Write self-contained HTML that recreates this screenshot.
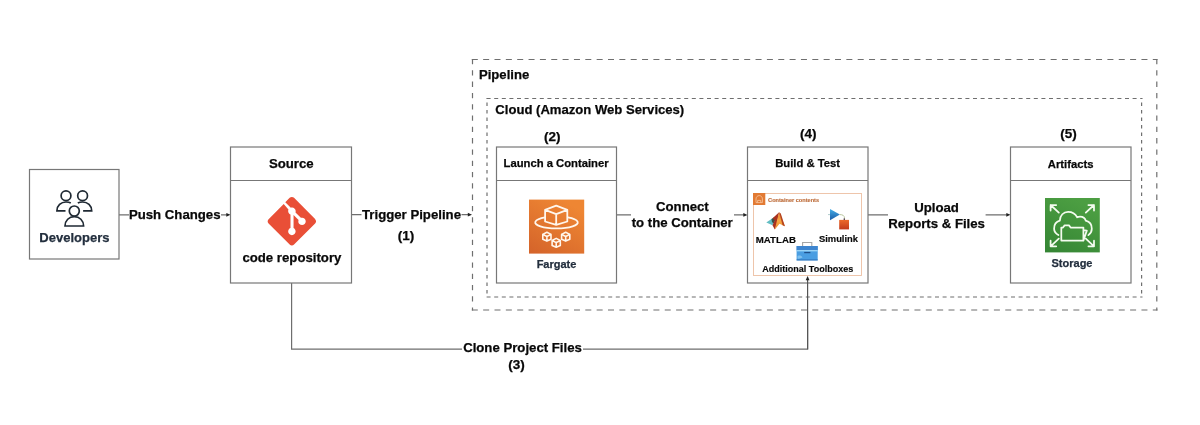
<!DOCTYPE html>
<html><head><meta charset="utf-8">
<style>
html,body{margin:0;padding:0;background:#fff;}
body{width:1200px;height:425px;overflow:hidden;position:relative;}
svg{position:absolute;left:0;top:0;will-change:transform;}
text{font-family:"Liberation Sans",sans-serif;font-weight:bold;}
</style></head>
<body>
<svg width="1200" height="425" viewBox="0 0 1200 425">
<defs>
  <linearGradient id="gOr" x1="0" y1="1" x2="0.6" y2="0">
    <stop offset="0" stop-color="#D4632A"/><stop offset="1" stop-color="#EE8633"/>
  </linearGradient>
  <linearGradient id="gGr" x1="0" y1="1" x2="0.5" y2="0">
    <stop offset="0" stop-color="#348534"/><stop offset="1" stop-color="#4C9E42"/>
  </linearGradient>
</defs>

<!-- dashed containers -->
<g fill="none" stroke="#6f6f6f" stroke-width="1.2">
  <path stroke-dasharray="6 5.35" d="M471.8,59.5 H1157.5 M471.8,310 H1157.5"/>
  <path stroke-dasharray="5.3 6" d="M472.5,59 V310.5 M1156.8,59 V310.5"/>
  <path stroke-dasharray="4 3.6" d="M486.6,98.5 H1142.5 M486.6,297 H1142.5"/>
  <path stroke-dasharray="3.5 4" stroke-dashoffset="-4.5" d="M487,98 V297.5 M1141.6,98 V297.5"/>
</g>

<text x="479" y="79.2" font-size="13.1" fill="#080808" stroke="#080808" stroke-width="0.25">Pipeline</text>
<text x="495.3" y="113.9" font-size="13.1" fill="#080808" stroke="#080808" stroke-width="0.25">Cloud (Amazon Web Services)</text>

<!-- connectors -->
<g stroke="#6e6e6e" stroke-width="1.2" fill="none">
  <line x1="119" y1="214.8" x2="227" y2="214.8"/>
  <line x1="351.5" y1="214.7" x2="468" y2="214.7"/>
  <line x1="616.5" y1="214.9" x2="744" y2="214.9"/>
  <line x1="868" y1="214.8" x2="1007" y2="214.8"/>
  <polyline points="291.6,283 291.6,349.2 807.6,349.2 807.6,320"/>
</g>
<g fill="#222">
  <path d="M230.5,214.8 l-4.2,-1.9 v3.8z"/>
  <path d="M472,214.7 l-4.2,-1.9 v3.8z"/>
  <path d="M747.5,214.9 l-4.2,-1.9 v3.8z"/>
  <path d="M1010.5,214.8 l-4.2,-1.9 v3.8z"/>
</g>
<!-- label backgrounds -->
<g fill="#fff">
  <rect x="129" y="205" width="92" height="18"/>
  <rect x="361.5" y="205" width="100" height="18"/>
  <rect x="631" y="199" width="103" height="32"/>
  <rect x="888" y="199" width="97.6" height="32"/>
  <rect x="462" y="340" width="121" height="18"/>
</g>

<!-- Developers -->
<rect x="29.5" y="169.5" width="89.5" height="89.5" fill="#fff" stroke="#777" stroke-width="1.2"/>
<text x="74.4" y="242.1" font-size="13" fill="#232F3E" text-anchor="middle" stroke="#232F3E" stroke-width="0.25">Developers</text>
<g stroke="#1F2933" stroke-width="1.7" fill="none">
  <circle cx="66" cy="195.8" r="4.9"/>
  <circle cx="82.6" cy="195.8" r="4.9"/>
  <circle cx="74.3" cy="211" r="5"/>
  <path d="M65.5,210.9 H56.9 C56.9,205.5 61,202 66,202 C68,202 69.5,202.3 70.8,203"/>
  <path d="M83.1,210.9 H91.7 C91.7,205.5 87.6,202 82.6,202 C80.6,202 79.1,202.3 77.8,203"/>
  <path d="M65,226 H83.6 C83.6,220.5 79.5,216.6 74.3,216.6 C69.1,216.6 65,220.5 65,226 Z"/>
</g>
<text x="174.75" y="219" font-size="13.2" fill="#080808" text-anchor="middle" stroke="#080808" stroke-width="0.25">Push Changes</text>

<!-- Source -->
<rect x="230.5" y="147" width="121" height="136" fill="#fff" stroke="#777" stroke-width="1.2"/>
<line x1="230.5" y1="180.5" x2="351.5" y2="180.5" stroke="#777" stroke-width="1.2"/>
<text x="291.3" y="167.6" font-size="13.2" fill="#080808" text-anchor="middle" stroke="#080808" stroke-width="0.25">Source</text>
<!-- git logo -->
<g transform="translate(267.5,196.8) scale(0.487)">
  <path fill="#E94F37" d="M97.8,45.5 L54.5,2.2 c-2.5,-2.5 -6.5,-2.5 -9,0 l-9,9 11.4,11.4 c2.6,-0.9 5.7,-0.3 7.8,1.8 2.1,2.1 2.7,5.2 1.8,7.8 l11,11 c2.7,-0.9 5.7,-0.3 7.8,1.8 3,3 3,7.8 0,10.8 -3,3 -7.8,3 -10.8,0 -2.2,-2.2 -2.8,-5.5 -1.7,-8.3 l-10.3,-10.3 v27.1 c0.7,0.4 1.4,0.9 2,1.5 3,3 3,7.8 0,10.8 -3,3 -7.8,3 -10.8,0 -3,-3 -3,-7.8 0,-10.8 0.7,-0.7 1.6,-1.3 2.5,-1.7 V36.3 c-0.9,-0.4 -1.8,-0.9 -2.5,-1.7 -2.3,-2.3 -2.8,-5.6 -1.7,-8.4 L33.3,14.9 2.2,45.9 c-2.5,2.5 -2.5,6.5 0,9 l43.3,43.3 c2.5,2.5 6.5,2.5 9,0 l43.3,-43.3 c2.5,-2.5 2.5,-6.5 0,-9"/>
</g>
<text x="291.9" y="261.9" font-size="13.2" fill="#080808" text-anchor="middle" stroke="#080808" stroke-width="0.25">code repository</text>

<text x="411.5" y="219.4" font-size="13.2" fill="#080808" text-anchor="middle" stroke="#080808" stroke-width="0.25">Trigger Pipeline</text>
<text x="406" y="239.9" font-size="13.5" fill="#080808" text-anchor="middle" stroke="#080808" stroke-width="0.25">(1)</text>

<!-- Launch a Container -->
<text x="552.35" y="140.9" font-size="13.5" fill="#080808" text-anchor="middle" stroke="#080808" stroke-width="0.25">(2)</text>
<rect x="496.5" y="147" width="120" height="136" fill="#fff" stroke="#777" stroke-width="1.2"/>
<line x1="496.5" y1="180.5" x2="616.5" y2="180.5" stroke="#777" stroke-width="1.2"/>
<text x="556.1" y="167.2" font-size="11.25" fill="#080808" text-anchor="middle" stroke="#080808" stroke-width="0.25">Launch a Container</text>
<rect x="529" y="199.6" width="55.2" height="54" fill="url(#gOr)"/>
<g stroke="#FFF6EC" fill="none" stroke-linejoin="round" stroke-linecap="round">
  <path stroke-width="1.8" d="M556.2,205.6 L567.3000000000001,209.9 L567.3000000000001,221.5 L556.2,224.9 L545.1,221.5 L545.1,209.9 Z M545.1,209.9 L556.2,214.2 L567.3000000000001,209.9 M556.2,214.2 L556.2,224.9"/>
  <path stroke-width="1.8" d="M545.1,217.4 A21.3,6 0 1 0 567.9,217.4"/>
  <path stroke-width="1.6" d="M546.9,232.3 L551.0,234.4 L551.0,239.3 L546.9,241.10000000000002 L542.8,239.3 L542.8,234.4 Z M542.8,234.4 L546.9,236.5 L551.0,234.4 M546.9,236.5 L546.9,241.10000000000002"/>
  <path stroke-width="1.6" d="M565.7,232.3 L569.8000000000001,234.4 L569.8000000000001,239.3 L565.7,241.10000000000002 L561.6,239.3 L561.6,234.4 Z M561.6,234.4 L565.7,236.5 L569.8000000000001,234.4 M565.7,236.5 L565.7,241.10000000000002"/>
  <path stroke-width="1.6" d="M556.2,238.4 L560.3000000000001,240.5 L560.3000000000001,245.4 L556.2,247.20000000000002 L552.1,245.4 L552.1,240.5 Z M552.1,240.5 L556.2,242.6 L560.3000000000001,240.5 M556.2,242.6 L556.2,247.20000000000002"/>
</g>
<text x="556.5" y="267.6" font-size="11" fill="#232F3E" text-anchor="middle" stroke="#232F3E" stroke-width="0.25">Fargate</text>

<text x="682.4" y="210.7" font-size="13.2" fill="#080808" text-anchor="middle" stroke="#080808" stroke-width="0.25">Connect</text>
<text x="682.2" y="227" font-size="13.2" fill="#080808" text-anchor="middle" stroke="#080808" stroke-width="0.25">to the Container</text>

<!-- Build & Test -->
<text x="808.15" y="138.4" font-size="13.5" fill="#080808" text-anchor="middle" stroke="#080808" stroke-width="0.25">(4)</text>
<rect x="747.5" y="147" width="120.5" height="136" fill="#fff" stroke="#777" stroke-width="1.2"/>
<line x1="747.5" y1="180.5" x2="868" y2="180.5" stroke="#777" stroke-width="1.2"/>
<text x="807.55" y="167.2" font-size="11.25" fill="#080808" text-anchor="middle" stroke="#080808" stroke-width="0.25">Build &amp; Test</text>
<rect x="753.5" y="193.5" width="108" height="82" fill="#fff" stroke="#EDBFA3" stroke-width="0.9"/>
<rect x="753" y="193" width="12.3" height="12" fill="#E27A33"/>
<g stroke="#F7C7A0" stroke-width="0.8" fill="none"><path d="M756,202.6 v-3.6 c0,-2 1.4,-3.4 3.2,-3.4 c1.8,0 3.2,1.4 3.2,3.4 v3.6 z M757.6,202.6 v-2.2 h3.2 v2.2"/></g>
<text x="768.1" y="202" font-size="5.6" fill="#BF6F3E" stroke="#BF6F3E" stroke-width="0.16">Container contents</text>
<!-- matlab logo -->
<defs>
  <linearGradient id="gMl" x1="0" y1="0" x2="0" y2="1">
    <stop offset="0" stop-color="#E8832F"/><stop offset="0.5" stop-color="#F7A843"/><stop offset="1" stop-color="#E88A2E"/>
  </linearGradient>
  <linearGradient id="gSl" x1="0" y1="0" x2="0" y2="1">
    <stop offset="0" stop-color="#45AEE8"/><stop offset="1" stop-color="#1A5AA6"/>
  </linearGradient>
  <linearGradient id="gSq" x1="0" y1="0" x2="0" y2="1">
    <stop offset="0" stop-color="#EC6A2C"/><stop offset="1" stop-color="#C23A1C"/>
  </linearGradient>
</defs>
<path d="M766.3,222.4 L772.6,218.2 L774.8,220.2 L772.5,225.3 Z" fill="#62BDC3"/>
<path d="M771.5,219 L773.8,217.4 L775.6,219.6 L773.6,223.5 L772,222 Z" fill="#3F5048"/>
<path d="M772.6,218.2 L779.1,212.3 L777,223.5 L774.8,229.4 L772.5,225.3 L774.8,220.2 Z" fill="#A93220"/>
<path d="M779.1,212.3 L781.6,218 L784.9,226.3 L779.5,223.8 L774.8,229.4 L776.6,222 Z" fill="url(#gMl)"/>
<path d="M779.1,212.3 L780.8,213.6 L784.9,226.3 L782.6,225.2 Z" fill="#B5431F"/>
<text x="775.8" y="243" font-size="9.7" fill="#080808" text-anchor="middle" stroke="#080808" stroke-width="0.16">MATLAB</text>
<!-- simulink logo -->
<path d="M828,214.6 h2" stroke="#9bb" stroke-width="0.8"/>
<path d="M830,208.9 L839.9,214.6 L830,220.2 Z" fill="url(#gSl)"/>
<path d="M839.9,214.6 c2.5,0 4.6,0.8 4.6,3.5 v1.5" stroke="#B9C69E" stroke-width="1" fill="none"/>
<rect x="839.2" y="219.9" width="9.8" height="9.5" fill="url(#gSq)"/>
<rect x="843.6" y="218.4" width="1.4" height="1.6" fill="#5A4A5A"/>
<text x="838.5" y="242.4" font-size="9.4" fill="#080808" text-anchor="middle" stroke="#080808" stroke-width="0.16">Simulink</text>
<!-- toolbox -->
<path d="M802.6,246 v-3.5 h9.2 v3.5" stroke="#A6A6A6" stroke-width="1.1" fill="none"/>
<rect x="796.6" y="246" width="21.1" height="14.4" fill="#4A9EE2"/>
<rect x="796.6" y="246" width="21.1" height="4" fill="#3E85CF"/>
<rect x="796.6" y="250" width="21.1" height="1.4" fill="#9AD3F6"/>
<rect x="804.2" y="251.9" width="6.2" height="1.3" fill="#1E4F8A"/>
<path d="M797.5,256 c2,-1 4,-0.5 5,1.5 c-1.5,1 -3.5,1.5 -5,1z" fill="#7FC0EE"/>
<rect x="796.6" y="259.4" width="21.1" height="1" fill="#2F72B8"/>
<text x="807.75" y="271.5" font-size="9" fill="#080808" text-anchor="middle" stroke="#080808" stroke-width="0.16">Additional Toolboxes</text>

<text x="936.6" y="211.6" font-size="13.2" fill="#080808" text-anchor="middle" stroke="#080808" stroke-width="0.25">Upload</text>
<text x="936.6" y="227.75" font-size="13.2" fill="#080808" text-anchor="middle" stroke="#080808" stroke-width="0.25">Reports &amp; Files</text>

<!-- Artifacts -->
<text x="1068.5" y="138.4" font-size="13.5" fill="#080808" text-anchor="middle" stroke="#080808" stroke-width="0.25">(5)</text>
<rect x="1010.5" y="147" width="120.5" height="136" fill="#fff" stroke="#777" stroke-width="1.2"/>
<line x1="1010.5" y1="180.5" x2="1131" y2="180.5" stroke="#777" stroke-width="1.2"/>
<text x="1070.65" y="167.6" font-size="11.25" fill="#080808" text-anchor="middle" stroke="#080808" stroke-width="0.25">Artifacts</text>
<rect x="1045" y="198" width="54.8" height="54.4" fill="url(#gGr)"/>
<g stroke="#F4FBEF" stroke-width="1.75" fill="none" stroke-linecap="round" stroke-linejoin="round">
  <path d="M1050.6,205 L1058.8,212.6 M1050.6,205 h5.6 M1050.6,205 v5.6"/>
  <path d="M1094,205 L1085.8,212.6 M1094,205 h-5.6 M1094,205 v5.6"/>
  <path d="M1050.6,246.3 L1058.8,238.7 M1050.6,246.3 h5.6 M1050.6,246.3 v-5.6"/>
  <path d="M1094,246.3 L1085.8,238.7 M1094,246.3 h-5.6 M1094,246.3 v-5.6"/>
  <path d="M1058.4,235.1 C1055.8,233.5 1054.1,231.5 1054.1,228.7 C1054.1,224.5 1056.5,221.5 1059.8,220.7 C1060,215.4 1063.5,211.8 1068.1,211.8 C1072.3,211.8 1075.6,214.3 1077.2,217.3 C1078,216.8 1079,216.5 1080,216.5 C1082.8,216.5 1085.2,218.3 1085.8,220.7 C1089.5,221.6 1091.8,224.8 1091.8,228.7 C1091.8,231.5 1090.4,233.6 1088.4,235.1"/>
  <path d="M1061.3,227.5 V240.6 H1083.4 V227.5 H1070.6 L1069,225.4 H1064.6 L1063,227.5 Z M1083.4,230.2 L1086.8,230.6 L1083.4,240.6"/>
</g>
<text x="1072" y="267" font-size="11" fill="#232F3E" text-anchor="middle" stroke="#232F3E" stroke-width="0.25">Storage</text>

<text x="522.5" y="352.25" font-size="13.2" fill="#080808" text-anchor="middle" stroke="#080808" stroke-width="0.25">Clone Project Files</text>
<text x="516.4" y="368.8" font-size="13.5" fill="#080808" text-anchor="middle" stroke="#080808" stroke-width="0.25">(3)</text>
<line x1="807.6" y1="349.2" x2="807.6" y2="279.5" stroke="#555" stroke-width="1.2"/>
<path d="M807.6,276 l-1.9,4.2 h3.8z" fill="#222"/>
</svg>
</body></html>
